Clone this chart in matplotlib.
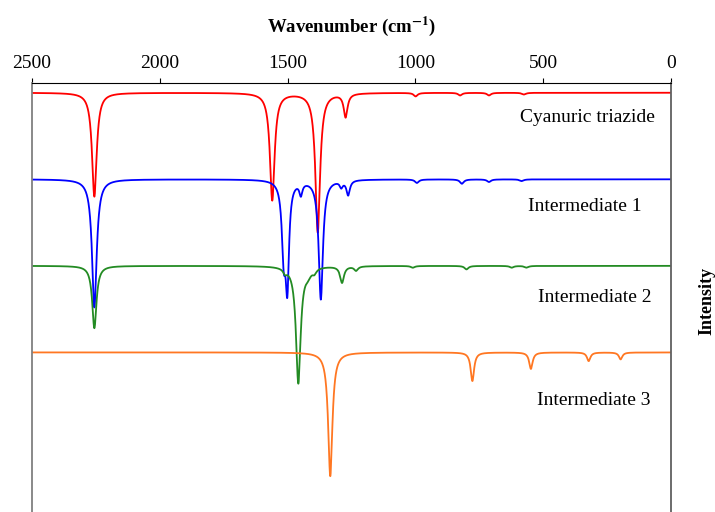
import numpy as np
import matplotlib
matplotlib.use('Agg')
import matplotlib.pyplot as plt

# peak lists: centre (cm-1), depth (baseline units), half width (cm-1)
names = ['Cyanuric triazide', 'Intermediate 1', 'Intermediate 2', 'Intermediate 3']
colors = ['#FF0000', '#0000FF', '#238B23', '#FF7722']

triazide_pos = [2256, 1560, 1382, 1273, 999, 825, 712, 575]
triazide_depth = [1.20, 1.24, 1.61, 0.27, 0.04, 0.03, 0.03, 0.02]
triazide_hw = [11, 11, 11, 9, 9, 9, 9, 9]

inter1_pos = [2256, 1515, 1501, 1448, 1370, 1290, 1263, 994, 818, 712, 584]
inter1_depth = [1.48, 0.80, 1.12, 0.14, 1.38, 0.07, 0.17, 0.04, 0.05, 0.03, 0.02]
inter1_hw = [11, 9, 8, 7, 10, 7, 8, 9, 9, 9, 9]

inter2_pos = [2256, 1510, 1458, 1420, 1395, 1287, 1232, 1010, 800, 623, 565]
inter2_depth = [0.72, 0.05, 1.35, 0.07, 0.05, 0.19, 0.05, 0.02, 0.04, 0.02, 0.02]
inter2_hw = [10, 8, 11, 14, 9, 9, 9, 9, 9, 9, 9]

inter3_pos = [1333, 777, 548, 322, 197]
inter3_depth = [1.43, 0.33, 0.19, 0.10, 0.08]
inter3_hw = [10, 8, 8, 8, 8]

peaks = [(triazide_pos, triazide_depth, triazide_hw),
         (inter1_pos, inter1_depth, inter1_hw),
         (inter2_pos, inter2_depth, inter2_hw),
         (inter3_pos, inter3_depth, inter3_hw)]

# label positions (wavenumber, y)
label_x = [325, 336, 299, 301]
label_y = [-0.29, -1.32, -2.36, -3.55]

plt.rcParams['font.family'] = ['Liberation Serif', 'DejaVu Serif']
plt.rcParams['mathtext.fontset'] = 'stix'

x = np.linspace(0, 2500, 5001)

fig = plt.figure(figsize=(7.15, 5.12), dpi=100)
ax = fig.add_axes([32 / 715, -0.01, 639 / 715, 1 - 83.3 / 512 + 0.01])

for i, (pos, depth, hw) in enumerate(peaks):
    y = np.full_like(x, -float(i))
    for c, d, w in zip(pos, depth, hw):
        y -= d / (1 + ((x - c) / w) ** 2)
    ax.plot(x, y, color=colors[i], lw=1.3)
    ax.text(label_x[i], label_y[i], names[i], ha='center', va='center', fontsize=14)

ax.set_xlim(2500, 0)
top = 0.109
ax.set_ylim(top - (512 - 83.3) / 86.4 - 0.05, top)

ax.xaxis.tick_top()
ax.xaxis.set_label_position('top')
ax.set_xticks([2500, 2000, 1500, 1000, 500, 0])
ax.tick_params(axis='x', direction='out', length=3.3, labelsize=14, pad=4.5)
ax.set_yticks([])
ax.set_xlabel(r'Wavenumber (cm$^{\mathbf{-1}}$)', fontsize=13.5, fontweight='bold', labelpad=17)

fig.text(707 / 715, 1 - 301 / 512, 'Intensity', rotation=90, ha='center', va='center',
         fontsize=13, fontweight='bold')

ax.spines['bottom'].set_visible(False)
ax.spines['top'].set_color('black')
ax.spines['left'].set_color('#808080')
ax.spines['right'].set_color('#606060')
for s in ['left', 'right']:
    ax.spines[s].set_linewidth(1.3)

plt.savefig('out.png', dpi=100)
